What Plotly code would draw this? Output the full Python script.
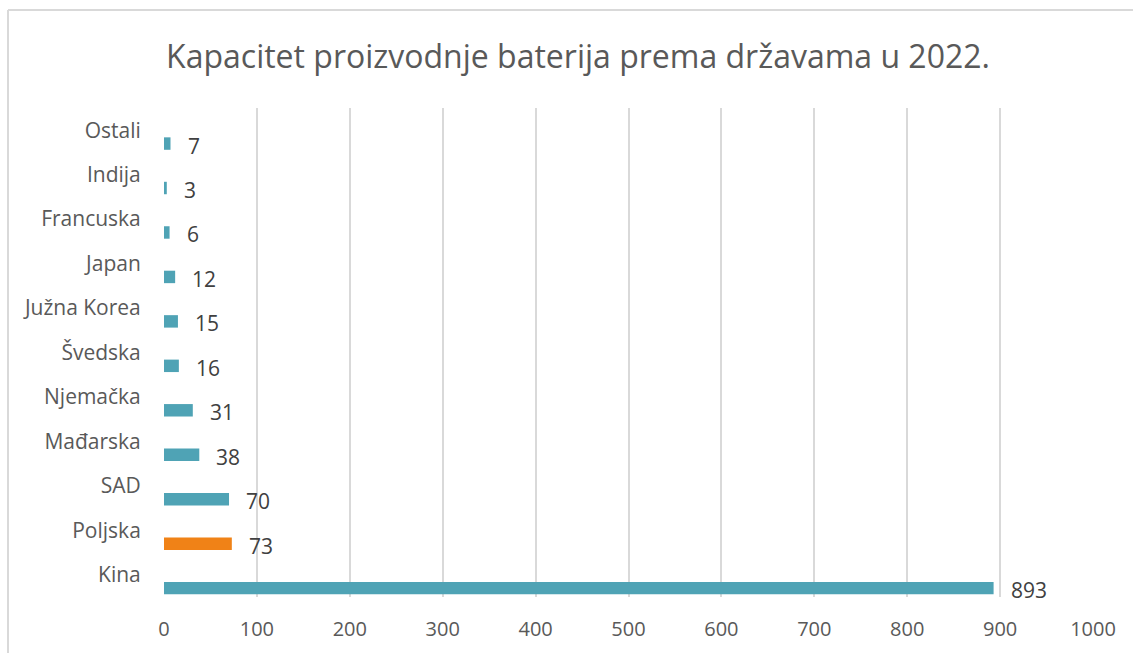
import plotly.graph_objects as go

categories = ["Kina", "Poljska", "SAD", "Mađarska", "Njemačka", "Švedska",
              "Južna Korea", "Japan", "Francuska", "Indija", "Ostali"]
values = [893, 73, 70, 38, 31, 16, 15, 12, 6, 3, 7]
highlight = "Poljska"
x_ticks = [0, 100, 200, 300, 400, 500, 600, 700, 800, 900, 1000]

TEAL = "#4FA3B5"
ORANGE = "#F08217"
TEXT = "#595959"
GRID = "#D9D9D9"
FONT = "Open Sans"

W, H = 1133, 653
L, T = 164, 108
PW, PH = 929, 489

idx = list(range(len(categories)))
bar_offset = -0.3
bar_y = [i + bar_offset for i in idx]
colors = [ORANGE if c == highlight else TEAL for c in categories]

fig = go.Figure()
fig.add_trace(go.Bar(
    x=values, y=bar_y, orientation="h", width=0.28,
    marker=dict(color=colors, line=dict(width=0)),
    hoverinfo="skip", showlegend=False,
))

for v, y in zip(values, bar_y):
    fig.add_annotation(x=v, y=y, text=str(v), showarrow=False,
                       xanchor="left", yanchor="middle", xshift=15, yshift=-2,
                       font=dict(family=FONT, size=21, color="#404040"))

# outer chart border: only the top and left edges are visible in the frame
bx0 = (8 - L) / PW
bx1 = (W - L) / PW
by1 = (T + PH - 10) / PH
by0 = -(H - T - PH) / PH
fig.add_shape(type="line", xref="paper", yref="paper",
              x0=bx0, x1=bx1, y0=by1, y1=by1,
              line=dict(color=GRID, width=2), layer="below")
fig.add_shape(type="line", xref="paper", yref="paper",
              x0=bx0, x1=bx0, y0=by0, y1=by1,
              line=dict(color=GRID, width=2), layer="below")

fig.update_layout(
    width=W, height=H,
    margin=dict(l=L, r=W - L - PW, t=T, b=H - T - PH),
    paper_bgcolor="white", plot_bgcolor="white",
    title=dict(text="Kapacitet proizvodnje baterija prema državama u 2022.",
               x=578 / W, xanchor="center", y=1 - 57 / H, yanchor="middle",
               font=dict(family=FONT, size=32, color=TEXT)),
    xaxis=dict(range=[0, 1000], tickvals=x_ticks, ticktext=[str(t) for t in x_ticks],
               showgrid=True, gridcolor=GRID, gridwidth=2, zeroline=False,
               showline=False, ticks="outside", ticklen=14, tickcolor="rgba(0,0,0,0)",
               tickfont=dict(family=FONT, size=20, color=TEXT), fixedrange=True),
    yaxis=dict(range=[-0.5, len(categories) - 0.5], tickvals=idx, ticktext=categories,
               showgrid=False, zeroline=False, showline=False,
               ticks="outside", ticklen=18, tickcolor="rgba(0,0,0,0)",
               tickfont=dict(family=FONT, size=21, color=TEXT), fixedrange=True),
    font=dict(family=FONT, color=TEXT),
)

fig.write_html("out.html", config={"displayModeBar": False},
               post_script="document.body.style.margin='0';document.body.style.overflow='hidden';")
